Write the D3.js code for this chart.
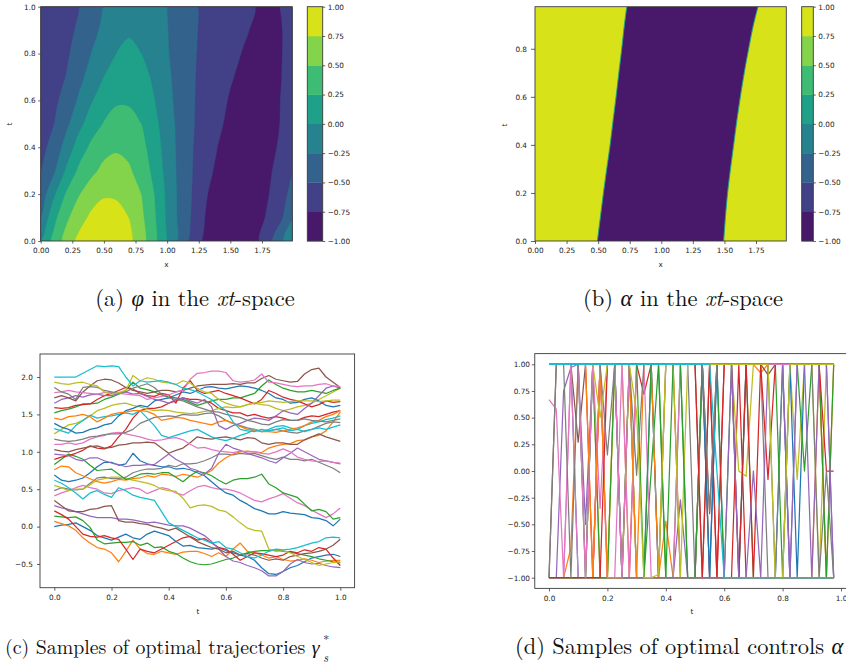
<!DOCTYPE html>
<html>
<head>
<meta charset="utf-8">
<script src="https://cdn.jsdelivr.net/npm/d3@7"></script>
<style>
  body { margin: 0; background: #fff; }
  svg { display: block; }
  .tick text { font-family: "DejaVu Sans", sans-serif; font-size: 7.3px; fill: #222; }
  .axlabel { font-family: "DejaVu Sans", sans-serif; font-size: 7.3px; fill: #222; }
  .caption { font-family: "Latin Modern Roman", "CMU Serif", "Liberation Serif", "DejaVu Serif", serif; fill: #111; }
</style>
</head>
<body>
<svg id="fig" width="846" height="666"></svg>
<script>
// ---------------- (a) value function φ(x, t) on a regular grid ----------------
const phiX = [0, 0.1, 0.2, 0.3, 0.4, 0.5, 0.6, 0.7, 0.8, 0.9, 1.0, 1.1, 1.2, 1.3, 1.4, 1.5, 1.6, 1.7, 1.8, 1.9, 2.0];
const phiT = [0, 0.1, 0.2, 0.3, 0.4, 0.5, 0.6, 0.7, 0.8, 0.9, 1.0];
const phiGrid = [
  [0, 0.309, 0.588, 0.809, 0.951, 1.0, 0.951, 0.809, 0.588, 0.309, 0, -0.309, -0.588, -0.809, -0.951, -1.0, -0.951, -0.809, -0.588, -0.309, 0],
  [-0.24, 0.165, 0.447, 0.64, 0.80, 0.86, 0.83, 0.745, 0.54, 0.28, -0.04, -0.31, -0.53, -0.752, -0.90, -0.97, -0.95, -0.86, -0.71, -0.54, -0.24],
  [-0.40, -0.05, 0.27, 0.48, 0.63, 0.725, 0.72, 0.64, 0.49, 0.245, -0.055, -0.31, -0.51, -0.72, -0.86, -0.93, -0.95, -0.90, -0.76, -0.60, -0.40],
  [-0.51, -0.30, 0.03, 0.29, 0.44, 0.56, 0.59, 0.53, 0.38, 0.18, -0.09, -0.315, -0.497, -0.66, -0.80, -0.88, -0.92, -0.90, -0.79, -0.66, -0.51],
  [-0.58, -0.41, -0.16, 0.11, 0.30, 0.42, 0.47, 0.43, 0.32, 0.12, -0.11, -0.32, -0.49, -0.62, -0.752, -0.84, -0.90, -0.90, -0.83, -0.71, -0.58],
  [-0.61, -0.51, -0.31, -0.075, 0.125, 0.265, 0.345, 0.33, 0.245, 0.06, -0.125, -0.33, -0.48, -0.60, -0.71, -0.80, -0.87, -0.89, -0.84, -0.74, -0.61],
  [-0.63, -0.56, -0.41, -0.22, -0.02, 0.12, 0.22, 0.22, 0.14, 0.005, -0.175, -0.34, -0.48, -0.58, -0.68, -0.77, -0.84, -0.875, -0.83, -0.745, -0.63],
  [-0.65, -0.59, -0.495, -0.32, -0.16, 0.002, 0.11, 0.135, 0.07, -0.04, -0.20, -0.35, -0.48, -0.56, -0.64, -0.73, -0.80, -0.86, -0.84, -0.755, -0.65],
  [-0.66, -0.61, -0.54, -0.40, -0.246, -0.125, 0.003, 0.05, -0.002, -0.11, -0.23, -0.36, -0.475, -0.55, -0.61, -0.69, -0.76, -0.83, -0.84, -0.76, -0.66],
  [-0.67, -0.62, -0.56, -0.47, -0.32, -0.20, -0.09, -0.025, -0.05, -0.13, -0.24, -0.36, -0.47, -0.54, -0.60, -0.66, -0.72, -0.78, -0.82, -0.76, -0.67],
  [-0.68, -0.63, -0.57, -0.51, -0.37, -0.24, -0.14, -0.08, -0.10, -0.16, -0.253, -0.36, -0.47, -0.54, -0.59, -0.645, -0.70, -0.752, -0.80, -0.745, -0.68]
];
const levels = [-1, -0.75, -0.5, -0.25, 0, 0.25, 0.5, 0.75, 1];

// ---------------- (b) switching curves of the bang-bang control α ----------------
const switchT = [0, 0.1, 0.2, 0.3, 0.4, 0.5, 0.6, 0.7, 0.8, 0.9, 0.975];
const switchLeft = [0.494, 0.518, 0.542, 0.568, 0.595, 0.618, 0.642, 0.664, 0.687, 0.708, 0.727];
const switchRight = [1.494, 1.508, 1.525, 1.548, 1.573, 1.598, 1.626, 1.657, 1.692, 1.730, 1.766];

// ---------------- (c) sampled optimal trajectories ----------------
const trajT = [0, 0.025, 0.05, 0.075, 0.1, 0.125, 0.15, 0.175, 0.2, 0.225, 0.25, 0.275, 0.3, 0.325, 0.35, 0.375, 0.4, 0.425, 0.45, 0.475, 0.5,
  0.525, 0.55, 0.575, 0.6, 0.625, 0.65, 0.675, 0.7, 0.725, 0.75, 0.775, 0.8, 0.825, 0.85, 0.875, 0.9, 0.925, 0.95, 0.975, 1.0];
const gamma00 = [0.00,0.02,0.03,0.05,0.00,-0.05,-0.12,-0.15,-0.18,-0.14,-0.10,-0.15,-0.17,-0.10,-0.06,-0.09,-0.12,-0.20,-0.26,-0.25,-0.28,-0.29,-0.30,-0.28,-0.32,-0.35,-0.38,-0.40,-0.45,-0.55,-0.63,-0.64,-0.60,-0.55,-0.52,-0.47,-0.42,-0.40,-0.38,-0.37,-0.40];
const gamma01 = [0.07,0.04,0.01,-0.05,-0.15,-0.22,-0.28,-0.30,-0.35,-0.47,-0.33,-0.18,-0.30,-0.36,-0.37,-0.33,-0.35,-0.37,-0.34,-0.33,-0.33,-0.36,-0.40,-0.35,-0.40,-0.30,-0.22,-0.33,-0.35,-0.38,-0.42,-0.40,-0.44,-0.46,-0.45,-0.43,-0.45,-0.48,-0.46,-0.45,-0.45];
const gamma02 = [0.14,0.13,0.12,0.13,0.08,-0.01,-0.18,-0.23,-0.22,-0.21,-0.21,-0.20,-0.25,-0.22,-0.28,-0.27,-0.33,-0.36,-0.42,-0.47,-0.50,-0.51,-0.50,-0.47,-0.44,-0.42,-0.38,-0.35,-0.33,-0.32,-0.32,-0.31,-0.33,-0.34,-0.36,-0.38,-0.40,-0.43,-0.45,-0.47,-0.48];
const gamma03 = [0.21,0.16,0.10,0.00,-0.10,-0.13,-0.14,-0.12,-0.15,-0.17,-0.30,-0.44,-0.30,-0.33,-0.35,-0.30,-0.25,-0.20,-0.15,-0.13,-0.18,-0.16,-0.22,-0.28,-0.30,-0.37,-0.45,-0.40,-0.35,-0.36,-0.38,-0.40,-0.38,-0.33,-0.35,-0.31,-0.33,-0.28,-0.30,-0.42,-0.52];
const gamma04 = [0.28,0.25,0.23,0.20,0.17,0.14,0.12,0.12,0.12,0.10,0.10,0.09,0.07,0.05,0.06,0.04,0.02,0.01,0.01,-0.02,-0.07,-0.12,-0.20,-0.30,-0.40,-0.46,-0.48,-0.52,-0.55,-0.59,-0.66,-0.66,-0.60,-0.50,-0.44,-0.48,-0.50,-0.49,-0.52,-0.54,-0.55];
const gamma05 = [0.35,0.28,0.21,0.20,0.20,0.23,0.24,0.27,0.28,0.08,0.06,0.06,0.04,0.03,0.00,-0.02,-0.05,-0.02,-0.08,-0.14,-0.20,-0.24,-0.28,-0.30,-0.35,-0.33,-0.38,-0.36,-0.38,-0.42,-0.45,-0.43,-0.45,-0.40,-0.38,-0.36,-0.35,-0.33,-0.30,-0.25,-0.17];
const gamma06 = [0.41,0.45,0.48,0.52,0.55,0.52,0.50,0.45,0.44,0.48,0.50,0.52,0.50,0.44,0.48,0.52,0.50,0.45,0.42,0.48,0.53,0.55,0.52,0.50,0.50,0.48,0.45,0.40,0.35,0.33,0.37,0.40,0.44,0.38,0.32,0.28,0.22,0.17,0.12,0.17,0.25];
const gamma07 = [0.48,0.52,0.50,0.49,0.50,0.58,0.65,0.66,0.64,0.64,0.66,0.72,0.75,0.77,0.77,0.78,0.82,0.80,0.84,0.84,0.85,0.88,0.92,0.97,0.97,0.96,0.98,0.97,0.98,0.95,0.92,0.90,0.93,0.90,0.90,0.88,0.90,0.86,0.82,0.78,0.72];
const gamma08 = [0.55,0.52,0.48,0.50,0.50,0.56,0.62,0.64,0.66,0.66,0.64,0.62,0.60,0.58,0.55,0.50,0.48,0.47,0.38,0.25,0.28,0.29,0.27,0.22,0.20,0.13,0.05,-0.02,-0.05,-0.06,-0.30,-0.33,-0.32,-0.35,-0.40,-0.44,-0.48,-0.52,-0.50,-0.48,-0.47];
const gamma09 = [0.62,0.58,0.52,0.45,0.37,0.45,0.48,0.43,0.39,0.52,0.48,0.42,0.39,0.37,0.35,0.20,0.05,0.00,-0.05,-0.10,-0.15,-0.18,-0.22,-0.20,-0.28,-0.30,-0.35,-0.40,-0.42,-0.38,-0.33,-0.30,-0.31,-0.30,-0.28,-0.25,-0.22,-0.20,-0.15,-0.14,-0.15];
const gamma10 = [0.69,0.62,0.60,0.62,0.65,0.72,0.80,0.86,0.86,0.82,0.84,0.98,0.88,0.84,0.82,0.80,0.80,0.77,0.78,0.76,0.72,0.68,0.60,0.52,0.45,0.42,0.35,0.30,0.24,0.21,0.17,0.17,0.20,0.18,0.17,0.16,0.12,0.11,0.08,0.01,0.10];
const gamma11 = [0.76,0.81,0.80,0.72,0.68,0.64,0.60,0.58,0.60,0.63,0.62,0.64,0.65,0.68,0.66,0.70,0.69,0.67,0.70,0.68,0.66,0.70,0.75,0.85,0.92,0.97,1.00,1.01,1.00,0.99,1.05,1.08,1.10,1.11,1.15,1.16,1.20,1.22,1.28,1.40,1.53];
const gamma12 = [0.83,0.90,0.97,0.94,0.90,0.82,0.75,0.76,0.77,0.70,0.63,0.66,0.70,0.71,0.70,0.72,0.72,0.66,0.60,0.68,0.74,0.72,0.68,0.62,0.57,0.62,0.64,0.64,0.66,0.70,0.57,0.52,0.45,0.42,0.39,0.30,0.21,0.23,0.20,0.10,0.12];
const gamma13 = [0.90,0.93,0.95,0.98,1.02,1.08,1.05,1.04,1.08,1.20,1.30,1.45,1.55,1.58,1.58,1.60,1.65,1.68,1.72,1.70,1.70,1.68,1.65,1.58,1.55,1.52,1.52,1.48,1.50,1.47,1.45,1.47,1.45,1.42,1.42,1.46,1.48,1.47,1.50,1.53,1.55];
const gamma14 = [0.97,0.96,0.95,0.90,0.88,0.92,0.92,0.88,0.85,0.83,0.80,0.82,0.82,0.83,0.83,0.90,0.97,0.90,0.85,0.78,0.75,0.70,0.78,0.98,1.10,1.05,1.02,0.98,0.95,0.92,0.88,0.85,0.92,0.98,1.05,1.00,0.95,0.90,0.88,0.86,0.84];
const gamma15 = [1.03,1.01,1.00,1.03,1.05,1.07,1.08,1.05,1.06,1.09,1.10,1.12,1.12,1.13,1.12,1.05,0.98,1.02,1.05,1.12,1.20,1.18,1.17,1.19,1.20,1.18,1.16,1.19,1.18,1.12,1.10,1.12,1.12,1.10,1.10,1.16,1.20,1.24,1.20,1.17,1.14];
const gamma16 = [1.10,1.10,1.12,1.10,1.12,1.17,1.20,1.22,1.25,1.26,1.24,1.22,1.20,1.17,1.15,1.16,1.18,1.19,1.16,1.10,1.05,1.06,1.03,1.01,1.00,0.99,1.01,1.00,1.00,0.98,0.97,1.00,1.04,1.00,0.93,0.90,0.88,0.87,0.88,0.86,0.85];
const gamma17 = [1.17,1.15,1.14,1.15,1.17,1.20,1.21,1.23,1.24,1.24,1.26,1.30,1.38,1.42,1.46,1.47,1.48,1.47,1.50,1.49,1.49,1.51,1.52,1.48,1.42,1.38,1.35,1.32,1.30,1.27,1.28,1.30,1.28,1.26,1.25,1.28,1.30,1.34,1.38,1.40,1.39];
const gamma18 = [1.24,1.30,1.36,1.38,1.42,1.48,1.55,1.58,1.62,1.64,1.65,1.62,1.60,1.57,1.55,1.56,1.55,1.53,1.52,1.51,1.52,1.54,1.55,1.58,1.60,1.59,1.60,1.63,1.65,1.63,1.62,1.58,1.55,1.57,1.60,1.62,1.65,1.70,1.75,1.80,1.85];
const gamma19 = [1.31,1.28,1.25,1.35,1.42,1.49,1.45,1.47,1.48,1.50,1.52,1.50,1.55,1.45,1.35,1.22,1.19,1.22,1.25,1.28,1.30,1.25,1.20,1.17,1.15,1.18,1.22,1.25,1.30,1.27,1.30,1.34,1.35,1.32,1.30,1.35,1.38,1.40,1.43,1.45,1.48];
const gamma20 = [1.38,1.33,1.30,1.25,1.26,1.30,1.32,1.36,1.38,1.48,1.55,1.58,1.62,1.60,1.68,1.70,1.72,1.76,1.80,1.78,1.82,1.86,1.87,1.85,1.84,1.86,1.88,1.87,1.85,1.82,1.78,1.72,1.70,1.65,1.66,1.70,1.72,1.68,1.62,1.60,1.62];
const gamma21 = [1.45,1.43,1.47,1.48,1.50,1.47,1.40,1.45,1.50,1.52,1.53,1.55,1.55,1.54,1.50,1.42,1.44,1.46,1.45,1.42,1.40,1.38,1.36,1.40,1.42,1.38,1.34,1.30,1.29,1.27,1.27,1.26,1.28,1.30,1.32,1.35,1.40,1.42,1.47,1.50,1.55];
const gamma22 = [1.52,1.55,1.57,1.60,1.64,1.64,1.65,1.70,1.73,1.77,1.82,1.93,1.85,1.83,1.80,1.76,1.73,1.72,1.70,1.66,1.62,1.65,1.68,1.70,1.70,1.72,1.72,1.75,1.78,1.88,1.96,1.90,1.85,1.82,1.80,1.80,1.82,1.80,1.78,1.82,1.85];
const gamma23 = [1.59,1.58,1.59,1.62,1.63,1.64,1.70,1.75,1.78,1.82,1.86,1.84,1.78,1.75,1.74,1.78,1.76,1.65,1.85,1.95,1.82,1.78,1.80,1.82,1.78,1.75,1.72,1.68,1.64,1.70,1.82,1.78,1.73,1.70,1.68,1.64,1.60,1.63,1.68,1.66,1.67];
const gamma24 = [1.65,1.70,1.72,1.75,1.73,1.76,1.77,1.75,1.75,1.78,1.80,1.77,1.78,1.74,1.70,1.68,1.65,1.70,1.72,1.68,1.65,1.70,1.60,1.35,1.30,1.35,1.38,1.42,1.45,1.44,1.42,1.48,1.55,1.52,1.50,1.58,1.65,1.75,1.85,1.88,1.85];
const gamma25 = [1.72,1.75,1.72,1.68,1.80,1.88,1.95,1.97,1.96,1.92,1.86,1.82,1.80,1.78,1.80,1.82,1.82,1.80,1.82,1.85,1.88,1.89,1.90,1.90,1.90,1.91,1.90,1.92,1.92,1.98,2.02,1.97,1.95,1.93,1.94,2.04,2.10,2.12,2.00,1.93,1.86];
const gamma26 = [1.79,1.80,1.82,1.80,1.79,1.78,1.77,1.79,1.79,1.78,1.77,1.76,1.75,1.70,1.72,1.74,1.76,1.80,1.82,1.97,2.05,2.06,2.08,2.08,2.06,1.95,1.93,1.94,1.96,2.04,1.93,1.92,1.90,1.88,1.87,1.88,1.88,1.90,1.91,1.88,1.87];
const gamma27 = [1.86,1.80,1.77,1.70,1.86,1.87,1.86,1.82,1.80,1.78,1.80,1.85,1.88,1.91,1.86,1.77,1.72,1.70,1.68,1.64,1.60,1.57,1.54,1.53,1.50,1.48,1.46,1.42,1.40,1.37,1.36,1.40,1.43,1.42,1.42,1.44,1.42,1.41,1.40,1.42,1.44];
const gamma28 = [1.93,1.91,1.90,1.92,1.93,1.90,1.88,1.80,1.77,1.79,1.82,2.02,1.95,1.99,1.97,1.93,1.92,1.90,1.95,1.92,1.85,1.80,1.78,1.70,1.65,1.62,1.60,1.63,1.65,1.66,1.68,1.67,1.66,1.67,1.68,1.68,1.68,1.67,1.68,1.69,1.69];
const gamma29 = [2.00,2.00,2.00,2.00,2.05,2.10,2.15,2.14,2.15,2.14,2.00,1.88,1.95,1.93,1.94,1.95,1.93,1.90,1.85,1.83,1.80,1.75,1.70,1.62,1.55,1.40,1.30,1.28,1.27,1.30,1.28,1.30,1.32,1.28,1.30,1.27,1.30,1.32,1.30,1.33,1.36];

// ---------------- (d) sampled optimal controls ----------------
const controlT = trajT.slice(0, 40);
const alpha00 = [1,1,1,1,-1,-1,-1,-1,-1,-1, -1,-1,-1,-1,1,-1,-1,-1,-1,-1, -1,-1,-1,1,-1,-1,-1,-1,-1,-1, -1,-1,-1,-1,-1,-1,-1,-1,-1,-1];
const alpha01 = [-1,-1,-1,-0.72,1,1,1,-1,-1,1, 1,-1,-1,-1,-1,-1,-0.47,-1,-1,-1, -1,-1,-1,-1,-1,-1,-1,-1,-1,-1, -1,-1,-1,-1,-1,-1,-1,-1,-1,-1];
const alpha02 = [-1,-1,-1,-1,-1,-1,1,-1,-1,-1, -1,1,-1,-1,0,1,-1,-1,1,-1, -1,-1,-1,-1,-1,-1,-1,1,-1,-1, -1,-1,-1,-1,-1,-1,-1,-1,-1,-1];
const alpha03 = [-1,-1,-1,-1,-1,-1,-1,1,-1,-1, -1,-1,1,0.72,1,1,1,1,-1,-1, -1,1,-1,-1,-1,-1,1,-1,-1,-1, -1,-1,-1,-1,-1,-1,-1,-1,-1,-1];
const alpha04 = [-1,-1,0.75,0.97,1,-0.5,1,1,1,1, 1,1,-1,-1,-1,-1,-1,-1,-0.27,-1, -1,-1,-1,-1,-1,-1,-1,-1,-1,-1, -1,-1,-1,-1,-1,-1,-1,-1,-1,-1];
const alpha05 = [-1,1,1,1,0.27,1,1,1,1,1, 1,1,1,1,1,1,1,1,1,1, 1,1,-0.4,1,1,1,1,1,1,1, 1,1,1,1,1,1,1,1,1,1];
const alpha06 = [0.67,0.58,-1,1,1,-1,1,-0.35,1,1, -1,-1,1,1,-1,-1,-1,-1,1,1, 1,1,1,1,1,1,1,1,1,1, 1,1,1,1,1,1,1,1,1,1];
const alpha07 = [-1,-1,-1,-1,-1,-1,-1,-1,-1,-1, -1,-1,-1,-1,-1,-1,-1,-1,-1,-1, -1,1,-1,-1,-1,-1,-1,-1,-1,-1, -1,-1,-1,-1,-1,-1,-1,-1,-1,-1];
const alpha08 = [-1,-1,-1,-1,-1,-1,-1,-1,-1,1, 1,1,-1,-1,-1,-1,-1,-1,-1,-1, -1,-1,-1,-1,-1,-1,-1,-1,-1,-1, -1,-1,-1,-1,-1,-1,-1,-1,-1,-1];
const alpha09 = [-1,-1,-1,-1,-1,-1,-1,-1,-1,-1, -1,-1,-1,-1,-1,-1,-1,-1,-1,-1, -1,-1,-1,-1,-1,-1,-1,-1,-1,-1, -1,-1,-1,-1,-1,-1,-1,-1,-1,-1];
const alpha10 = [-1,-1,-1,-1,-1,-1,-1,-1,-1,-1, -1,-1,-1,-1,-1,-1,-1,-1,-1,-1, -1,-1,-1,-1,-1,-1,-1,-1,-1,-1, -1,-1,1,-1,-1,-1,-1,-1,-1,-1];
const alpha11 = [-1,-1,-1,-1,-1,-1,-1,-1,-1,-1, -1,-1,-1,-1,-1,-1,-1,-1,-1,-1, -1,-1,-1,-1,-1,-1,-1,-1,-1,-1, -1,-1,-1,-1,-1,-1,-1,1,-1,-1];
const alpha12 = [-1,-1,-1,-1,-1,-1,-1,-1,-1,1, -1,-1,-1,-1,-1,-1,-1,-1,-1,-1, -1,-1,-1,-1,-1,-1,-1,-1,-1,-1, -1,-1,-1,-1,-1,-1,-1,-1,-1,-1];
const alpha13 = [1,1,1,1,1,1,-1,1,1,1, 1,1,1,1,1,1,1,1,1,1, 1,1,1,-1,1,1,1,1,1,1, 1,1,1,1,1,1,1,1,1,1];
const alpha14 = [1,1,1,1,1,1,1,1,1,1, 1,1,1,1,1,1,1,1,1,1, 1,1,1,1,1,1,1,1,1,1, 1,1,1,-1,1,1,1,1,1,-1];
const alpha15 = [1,1,1,1,1,1,1,1,1,1, 1,1,1,1,1,1,1,1,1,1, 1,-1,1,1,1,1,1,1,1,1, 1,1,1,1,1,1,1,1,1,1];
const alpha16 = [-1,-1,-1,1,-1,-1,-1,1,-1,-1, 1,-1,-1,-1,-1,-1,-1,-1,-1,-1, -1,-1,-1,-1,-1,-1,-1,-1,-1,-1, -1,-1,-1,-1,-1,-1,-1,-1,-1,-1];
const alpha17 = [-1,1,1,1,1,1,1,1,1,1, 1,1,1,1,1,1,1,1,1,1, -1,1,1,1,1,1,1,1,1,1, -1,-1,1,1,1,1,1,1,1,1];
const alpha18 = [1,1,1,1,1,1,1,1,1,1, 1,1,1,1,1,1,1,1,-1,1, 1,1,1,1,1,1,0,-0.05,1,1, 1,1,1,1,-0.08,1,1,-1,1,1];
const alpha19 = [1,1,1,1,1,1,1,1,1,1, 1,1,1,1,1,1,1,1,1,1, 1,1,1,1,1,1,1,1,1,1, 1,1,1,1,1,1,1,1,1,1];
const alpha20 = [1,1,1,1,1,1,1,1,1,1, 1,1,1,1,1,-1,1,1,1,1, 1,1,-1,1,1,1,-1,1,1,1, 1,1,1,1,-1,1,1,1,1,1];
const alpha21 = [1,1,1,1,1,1,-1,1,-1,-1, -1,1,-1,1,1,-1,1,1,1,1, 1,1,1,1,1,1,1,1,1,0.92, 1,1,1,1,1,1,1,1,-1,1];
const alpha22 = [1,1,1,1,1,-1,1,1,1,1, -1,1,1,-1,1,1,-1,1,1,-1, -1,1,1,1,-1,1,1,1,1,1, 1,1,-1,1,1,0,1,1,-1,1];
const alpha23 = [-1,-1,-1,-1,-1,-1,-1,-1,1,1, 1,1,1,1,1,1,1,1,1,1, 1,-1,1,-1,1,1,-1,1,-1,1, -0.08,1,1,1,1,1,1,1,0,0];
const alpha24 = [1,1,1,1,1,1,1,1,1,1, -1,-1,-1,-1,-1,-1,-1,-1,-1,-1, -1,-1,-1,-1,-1,1,-1,-1,0,-1, 1,1,1,-1,1,1,-1,1,1,-1];
const alpha25 = [1,1,1,1,1,1,1,1,1,1, 1,1,1,1,1,1,1,1,1,1, 1,1,1,1,1,1,1,1,1,1, 0.9,1,1,1,1,1,1,1,1,1];
const alpha26 = [1,1,1,1,1,-1,1,1,1,1, -1,1,1,1,1,1,1,1,1,1, 1,1,1,1,1,1,1,1,1,1, 1,1,1,1,1,1,1,1,1,1];
const alpha27 = [1,1,1,-1,1,1,1,1,0.15,1, 1,1,-0.04,1,1,1,1,1,1,1, 1,1,-0.38,1,1,1,1,1,1,1, 1,-1,-1,1,1,1,1,-1,0,-1];
const alpha28 = [1,1,1,1,1,1,1,0.5,1,1, 1,1,0.55,-1,-1,-0.97,1,1,1,1, 1,1,1,1,1,1,1,1,1,1, 1,-1,-1,1,1,1,1,1,1,1];
const alpha29 = [1,1,1,1,1,1,1,1,1,1, 1,1,1,1,1,1,1,1,1,1, 1,1,1,0,-1,-1,-1,-1,-1,-1, -1,-1,-1,-1,-1,-1,-1,-1,-1,-1];

const gammaPaths = [gamma00, gamma01, gamma02, gamma03, gamma04, gamma05, gamma06, gamma07, gamma08, gamma09,
  gamma10, gamma11, gamma12, gamma13, gamma14, gamma15, gamma16, gamma17, gamma18, gamma19,
  gamma20, gamma21, gamma22, gamma23, gamma24, gamma25, gamma26, gamma27, gamma28, gamma29];
const alphaPaths = [alpha00, alpha01, alpha02, alpha03, alpha04, alpha05, alpha06, alpha07, alpha08, alpha09,
  alpha10, alpha11, alpha12, alpha13, alpha14, alpha15, alpha16, alpha17, alpha18, alpha19,
  alpha20, alpha21, alpha22, alpha23, alpha24, alpha25, alpha26, alpha27, alpha28, alpha29];

// tick values
const ticksA_x = [0, 0.25, 0.5, 0.75, 1.0, 1.25, 1.5, 1.75];
const ticksA_t = [0, 0.2, 0.4, 0.6, 0.8, 1.0];
const ticksB_t = [0, 0.2, 0.4, 0.6, 0.8];
const ticksC_t = [0, 0.2, 0.4, 0.6, 0.8, 1.0];
const ticksC_y = [-0.5, 0, 0.5, 1.0, 1.5, 2.0];
const ticksD_y = [-1, -0.75, -0.5, -0.25, 0, 0.25, 0.5, 0.75, 1];

// ---------------- drawing ----------------
const svg = d3.select("#fig");
const defs = svg.append("defs");
const palette = d3.schemeCategory10;
const bandColor = i => d3.interpolateViridis((i + 0.5) / (levels.length - 1));
const FRAME = "#3a3a3a";

function clipRect(id, l, t, r, b) {
  defs.append("clipPath").attr("id", id).append("rect")
    .attr("x", l).attr("y", t).attr("width", r - l).attr("height", b - t);
}
function frame(l, t, r, b) {
  svg.append("rect").attr("x", l).attr("y", t).attr("width", r - l).attr("height", b - t)
    .attr("fill", "none").attr("stroke", FRAME).attr("stroke-width", 0.9);
}
function styleAxis(g) {
  g.select(".domain").remove();
  g.selectAll(".tick line").attr("stroke", FRAME).attr("stroke-width", 0.8);
}
function axisBottom(scale, y, ticks, fmt, size, pad) {
  const g = svg.append("g").attr("transform", `translate(0,${y})`)
    .call(d3.axisBottom(scale).tickValues(ticks).tickFormat(d3.format(fmt)).tickSize(size).tickPadding(pad));
  styleAxis(g);
}
function axisLeft(scale, x, ticks, fmt, size, pad) {
  const g = svg.append("g").attr("transform", `translate(${x},0)`)
    .call(d3.axisLeft(scale).tickValues(ticks).tickFormat(d3.format(fmt)).tickSize(size).tickPadding(pad));
  styleAxis(g);
}
function label(txt, x, y, rotate) {
  const t = svg.append("text").attr("class", "axlabel").attr("text-anchor", "middle")
    .attr("x", x).attr("y", y).text(txt);
  if (rotate) t.attr("transform", `rotate(-90,${x},${y})`);
}
function colorbar(l, r, t, b, size, pad) {
  const ys = d3.scaleLinear().domain([levels[0], levels[levels.length - 1]]).range([b, t]);
  const g = svg.append("g");
  for (let i = 0; i < levels.length - 1; i++) {
    g.append("rect").attr("x", l).attr("width", r - l)
      .attr("y", ys(levels[i + 1])).attr("height", ys(levels[i]) - ys(levels[i + 1]) + 0.3)
      .attr("fill", bandColor(i));
  }
  frame(l, t, r, b);
  const ax = svg.append("g").attr("transform", `translate(${r},0)`)
    .call(d3.axisRight(ys).tickValues(levels).tickFormat(d3.format(".2f")).tickSize(size).tickPadding(pad));
  styleAxis(ax);
}

// ----- (a) φ in the xt-space -----
{
  const box = { l: 40.7, r: 292.3, t: 6.7, b: 241 };
  const x = d3.scaleLinear().domain([0, 1.99]).range([box.l, box.r]);
  const y = d3.scaleLinear().domain([0, 1]).range([box.b, box.t]);
  clipRect("clipA", box.l, box.t, box.r, box.b);
  const dx = phiX[1] - phiX[0], dt = phiT[1] - phiT[0];
  // grid coordinates of d3.contours -> data space -> pixels
  const toPx = ([gx, gy]) => [x(phiX[0] + (gx - 0.5) * dx), y(phiT[0] + (gy - 0.5) * dt)];
  const ringPath = d3.line().curve(d3.curveCatmullRomClosed.alpha(0.5));
  const bands = d3.contours().size([phiX.length, phiT.length])
    .thresholds(levels.slice(0, -1))(phiGrid.flat());
  svg.append("g").attr("clip-path", "url(#clipA)")
    .selectAll("path").data(bands).join("path")
    .attr("d", mp => mp.coordinates.map(poly => poly.map(ring => ringPath(ring.slice(0, -1).map(toPx))).join("")).join(""))
    .attr("fill-rule", "evenodd")
    .attr("fill", (d, i) => bandColor(i))
    .attr("stroke", (d, i) => bandColor(i)).attr("stroke-width", 0.3);
  frame(box.l, box.t, box.r, box.b);
  axisBottom(x, box.b, ticksA_x, ".2f", 2.5, 4.5);
  axisLeft(y, box.l, ticksA_t, ".1f", 2.5, 2.5);
  label("x", 166.5, 266.5);
  label("t", 12, 124, true);
  colorbar(307.3, 322.7, box.t, box.b, 2.5, 2.5);
}

// ----- (b) α in the xt-space -----
{
  const box = { l: 535, r: 786.3, t: 6.7, b: 241 };
  const x = d3.scaleLinear().domain([0, 1.99]).range([box.l, box.r]);
  const y = d3.scaleLinear().domain([0, 0.975]).range([box.b, box.t]);
  clipRect("clipB", box.l, box.t, box.r, box.b);
  const g = svg.append("g").attr("clip-path", "url(#clipB)");
  g.append("rect").attr("x", box.l).attr("y", box.t).attr("width", box.r - box.l).attr("height", box.b - box.t)
    .attr("fill", bandColor(7));
  const region = switchT.map((t, i) => ({ t, a: switchLeft[i], b: switchRight[i] }));
  g.append("path").datum(region)
    .attr("d", d3.area().curve(d3.curveMonotoneY).y(d => y(d.t)).x0(d => x(d.a)).x1(d => x(d.b)))
    .attr("fill", bandColor(0));
  for (const key of ["a", "b"]) {
    g.append("path").datum(region)
      .attr("d", d3.line().curve(d3.curveMonotoneY).y(d => y(d.t)).x(d => x(d[key])))
      .attr("fill", "none").attr("stroke", bandColor(4)).attr("stroke-width", 1.1).attr("stroke-opacity", 0.85);
  }
  frame(box.l, box.t, box.r, box.b);
  axisBottom(x, box.b, ticksA_x, ".2f", 3, 4);
  axisLeft(y, box.l, ticksB_t, ".1f", 4, 4);
  label("x", 660.7, 266.5);
  label("t", 507, 125, true);
  colorbar(801.7, 813.3, box.t, box.b, 2.5, 2.5);
}

// ----- (c) sampled trajectories -----
{
  const x = d3.scaleLinear().domain([0, 1]).range([54.3, 340.3]);
  const y = d3.scaleLinear().domain([-0.5, 2.0]).range([564, 377]);
  const box = { l: x(-0.05), r: x(1.05), t: 354, b: 587.7 };
  clipRect("clipC", box.l, box.t, box.r, box.b);
  const line = d3.line().x((d, k) => x(trajT[k])).y(d => y(d));
  svg.append("g").attr("clip-path", "url(#clipC)")
    .selectAll("path").data(gammaPaths).join("path")
    .attr("d", line).attr("fill", "none")
    .attr("stroke", (d, i) => palette[i % 10]).attr("stroke-width", 1.25)
    .attr("stroke-linejoin", "round");
  frame(box.l, box.t, box.r, box.b);
  axisBottom(x, box.b, ticksC_t, ".1f", 3, 4);
  axisLeft(y, box.l, ticksC_y, ".1f", 3, 4.2);
  label("t", 198, 613.5);
}

// ----- (d) sampled controls -----
{
  const x = d3.scaleLinear().domain([0, 1]).range([549, 841]);
  const y = d3.scaleLinear().domain([-1, 1]).range([577.7, 364.3]);
  const box = { l: x(-0.04875), r: x(1.02375), t: y(1.1), b: y(-1.1) };
  clipRect("clipD", box.l, box.t, box.r, box.b);
  const line = d3.line().x((d, k) => x(controlT[k])).y(d => y(d));
  svg.append("g").attr("clip-path", "url(#clipD)")
    .selectAll("path").data(alphaPaths).join("path")
    .attr("d", line).attr("fill", "none")
    .attr("stroke", (d, i) => palette[i % 10]).attr("stroke-width", 1.25)
    .attr("stroke-linejoin", "round");
  frame(box.l, box.t, box.r, box.b);
  axisBottom(x, box.b, ticksC_t, ".1f", 3, 4);
  axisLeft(y, box.l, ticksD_y, ".2f", 3, 1.8);
  label("t", 692, 613.5);
}

// ----- sub-figure captions -----
function caption(parts, x, y, anchor, width) {
  const t = svg.append("text").attr("class", "caption").attr("x", x).attr("y", y)
    .attr("text-anchor", anchor).attr("font-size", 20);
  for (const p of parts) {
    const s = t.append("tspan").text(p.s);
    if (p.it) s.attr("font-style", "italic");
  }
  const w = t.node().getBBox().width;
  const size = 20 * width / w;
  t.attr("font-size", size);
  return { node: t, size };
}
caption([{ s: "(a) " }, { s: "φ", it: true }, { s: " in the " }, { s: "xt", it: true }, { s: "-space" }], 195, 306, "middle", 200);
caption([{ s: "(b) " }, { s: "α", it: true }, { s: " in the " }, { s: "xt", it: true }, { s: "-space" }], 683, 306, "middle", 200);
const capC = caption([{ s: "(c) Samples of optimal trajectories " }, { s: "γ", it: true }], 5, 654, "start", 316);
caption([{ s: "(d) Samples of optimal controls " }, { s: "α", it: true }], 515, 654, "start", 329);
// superscript * and subscript s of γ, stacked after the symbol
{
  const bb = capC.node.node().getBBox();
  const sx = bb.x + bb.width + 2.5;
  const small = capC.size * 0.6;
  svg.append("text").attr("class", "caption").attr("x", sx).attr("y", 654 - capC.size * 0.5)
    .attr("font-size", small).text("*");
  svg.append("text").attr("class", "caption").attr("x", sx).attr("y", 654 + capC.size * 0.4)
    .attr("font-size", small).attr("font-style", "italic").text("s");
}
</script>
</body>
</html>
